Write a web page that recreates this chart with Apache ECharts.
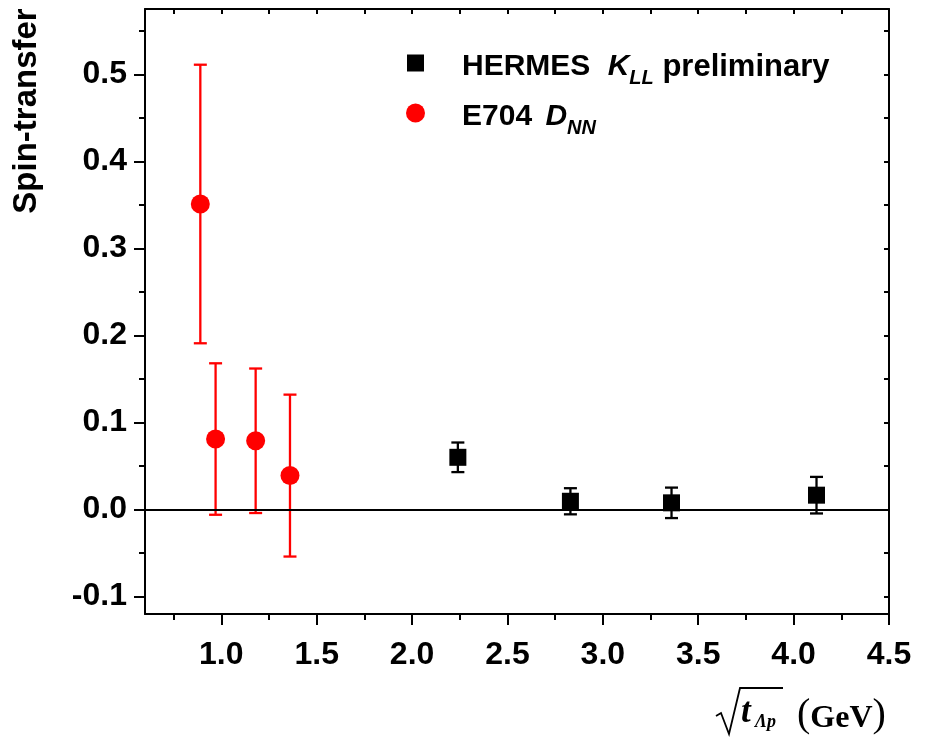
<!DOCTYPE html>
<html>
<head>
<meta charset="utf-8">
<script src="https://cdn.jsdelivr.net/npm/echarts@6/dist/echarts.min.js"></script>
<style>html,body{margin:0;padding:0;background:#fff;}#c{width:927px;height:739px;}</style>
</head>
<body>
<div id="c"></div>
<script>
// ---- data ----
const xMajor = [1.0, 1.5, 2.0, 2.5, 3.0, 3.5, 4.0, 4.5];
const xMinor = [0.75, 1.25, 1.75, 2.25, 2.75, 3.25, 3.75, 4.25];
const yMajor = [-0.1, 0.0, 0.1, 0.2, 0.3, 0.4, 0.5];
const yMinor = [-0.05, 0.05, 0.15, 0.25, 0.35, 0.45, 0.55];

const hermesX = [2.24, 2.83, 3.36, 4.12];
const hermesY = [0.060, 0.0095, 0.0077, 0.0165];
const hermesErr = [0.017, 0.015, 0.0175, 0.021];

const e704X = [0.89, 0.97, 1.18, 1.36];
const e704Y = [0.351, 0.081, 0.079, 0.039];
const e704Err = [0.160, 0.087, 0.083, 0.093];

// ---- build ----
const hermesData = hermesX.map((x, i) => [x, hermesY[i], hermesErr[i]]);
const e704Data = e704X.map((x, i) => [x, e704Y[i], e704Err[i]]);

function errRender(color, lw) {
  return function (params, api) {
    const x = api.value(0), y = api.value(1), e = api.value(2);
    const t = api.coord([x, y + e]);
    const b = api.coord([x, y - e]);
    const hw = 6.5;
    const st = { stroke: color, lineWidth: lw };
    return {
      type: 'group',
      children: [
        { type: 'line', shape: { x1: t[0], y1: t[1], x2: b[0], y2: b[1] }, style: st },
        { type: 'line', shape: { x1: t[0] - hw, y1: t[1], x2: t[0] + hw, y2: t[1] }, style: st },
        { type: 'line', shape: { x1: b[0] - hw, y1: b[1], x2: b[0] + hw, y2: b[1] }, style: st }
      ]
    };
  };
}

const SANS = '"Liberation Sans", Arial, sans-serif';
const SERIF = '"Liberation Serif", "Times New Roman", serif';
const labelStyle = { color: '#000', fontFamily: SANS, fontWeight: 'bold', fontSize: 32 };
const axLine = { show: true, onZero: false, lineStyle: { color: '#000', width: 2 } };
const noLine = { show: false, onZero: false };

const richLegend = {
  b: { fontFamily: SANS, fontWeight: 'bold', fontSize: 30, lineHeight: 32, verticalAlign: 'top', color: '#000' },
  p: { fontFamily: SANS, fontWeight: 'bold', fontSize: 31, lineHeight: 32, verticalAlign: 'top', color: '#000' },
  bi: { fontFamily: SANS, fontWeight: 'bold', fontStyle: 'italic', fontSize: 30, lineHeight: 32, verticalAlign: 'top', color: '#000', padding: [0, 0, 0, 9] },
  bi2: { fontFamily: SANS, fontWeight: 'bold', fontStyle: 'italic', fontSize: 30, lineHeight: 32, verticalAlign: 'top', color: '#000', padding: [0, 0, 0, 5] },
  sub: { fontFamily: SANS, fontWeight: 'bold', fontStyle: 'italic', fontSize: 20, lineHeight: 20, padding: [20, 0, 0, 0], color: '#000' }
};

const option = {
  animation: false,
  backgroundColor: '#fff',
  grid: { left: 145, right: 38, top: 9, bottom: 125 },
  legend: [
    {
      data: ['HERMES'], left: 407, top: 48, padding: 0,
      icon: 'rect', itemWidth: 17, itemHeight: 17,
      formatter: () => '{b|HERMES }{bi|K}{sub|LL}{p| preliminary}',
      textStyle: { padding: [10, 0, 0, 33], rich: richLegend },
      selectedMode: false
    },
    {
      data: ['E704'], left: 406, top: 98, padding: 0,
      icon: 'circle', itemWidth: 19, itemHeight: 19,
      formatter: () => '{b|E704 }{bi2|D}{sub|NN}',
      textStyle: { padding: [10, 0, 0, 32], rich: richLegend },
      selectedMode: false
    }
  ],
  xAxis: [
    {
      type: 'value', position: 'bottom', min: 0.6, max: 4.5,
      axisLine: axLine,
      axisTick: { show: true, inside: false, length: 11, customValues: xMajor, lineStyle: { color: '#000', width: 2 } },
      axisLabel: { show: true, customValues: xMajor, margin: 25, formatter: v => v.toFixed(1), ...labelStyle },
      splitLine: { show: false }
    },
    {
      type: 'value', position: 'bottom', min: 0.6, max: 4.5,
      axisLine: noLine,
      axisTick: { show: true, inside: false, length: 6, customValues: xMinor, lineStyle: { color: '#000', width: 2 } },
      axisLabel: { show: false },
      splitLine: { show: false }
    },
    {
      type: 'value', position: 'top', min: 0.6, max: 4.5,
      axisLine: axLine,
      axisTick: { show: true, inside: true, length: 5, customValues: xMajor.concat(xMinor), lineStyle: { color: '#000', width: 2 } },
      axisLabel: { show: false },
      splitLine: { show: false }
    }
  ],
  yAxis: [
    {
      type: 'value', position: 'left', min: -0.12, max: 0.575,
      axisLine: axLine,
      axisTick: { show: true, inside: false, length: 11, customValues: yMajor, lineStyle: { color: '#000', width: 2 } },
      axisLabel: { show: true, customValues: yMajor, margin: 18, formatter: v => v.toFixed(1), ...labelStyle },
      splitLine: { show: false }
    },
    {
      type: 'value', position: 'left', min: -0.12, max: 0.575,
      axisLine: noLine,
      axisTick: { show: true, inside: false, length: 6, customValues: yMinor, lineStyle: { color: '#000', width: 2 } },
      axisLabel: { show: false },
      splitLine: { show: false }
    },
    {
      type: 'value', position: 'right', min: -0.12, max: 0.575,
      axisLine: axLine,
      axisTick: { show: true, inside: true, length: 5, customValues: yMajor.concat(yMinor), lineStyle: { color: '#000', width: 2 } },
      axisLabel: { show: false },
      splitLine: { show: false }
    }
  ],
  series: [
    {
      type: 'custom', name: 'E704 err', xAxisIndex: 0, yAxisIndex: 0,
      renderItem: errRender('#ff0000', 2.3), data: e704Data, encode: { x: 0, y: 1 }, z: 2, silent: true
    },
    {
      type: 'custom', name: 'HERMES err', xAxisIndex: 0, yAxisIndex: 0,
      renderItem: errRender('#000000', 2.3), data: hermesData, encode: { x: 0, y: 1 }, z: 2, silent: true
    },
    {
      type: 'scatter', name: 'HERMES', xAxisIndex: 0, yAxisIndex: 0,
      symbol: 'rect', symbolSize: 17, itemStyle: { color: '#000', opacity: 1 },
      data: hermesData.map(d => [d[0], d[1]]), z: 3,
      markLine: {
        silent: true, symbol: 'none', label: { show: false },
        lineStyle: { color: '#000', width: 2, type: 'solid' },
        data: [{ yAxis: 0 }]
      }
    },
    {
      type: 'scatter', name: 'E704', xAxisIndex: 0, yAxisIndex: 0,
      symbol: 'circle', symbolSize: 19, itemStyle: { color: '#ff0000', opacity: 1 },
      data: e704Data.map(d => [d[0], d[1]]), z: 4
    }
  ],
  graphic: [
    {
      type: 'text', x: 27, y: 111, rotation: Math.PI / 2,
      style: { text: 'Spin-transfer', fontFamily: SANS, fontWeight: 'bold', fontSize: 33, fill: '#000', align: 'center', verticalAlign: 'middle' }
    },
    {
      type: 'polyline',
      shape: { points: [[716, 716], [721, 713], [729, 734], [740, 688], [783, 688]] },
      style: { stroke: '#000', lineWidth: 1.8, fill: null }
    },
    {
      type: 'text', x: 741, y: 730,
      style: { text: 't', fontFamily: SERIF, fontWeight: 'bold', fontStyle: 'italic', fontSize: 35, fill: '#000', verticalAlign: 'bottom' }
    },
    {
      type: 'text', x: 755, y: 731,
      style: { text: 'Λp', fontFamily: SERIF, fontWeight: 'bold', fontStyle: 'italic', fontSize: 18, fill: '#000', verticalAlign: 'bottom' }
    },
    {
      type: 'text', x: 797, y: 735,
      style: {
        text: '{pa|(}{g|GeV}{pa|)}', verticalAlign: 'bottom',
        rich: {
          pa: { fontFamily: SERIF, fontSize: 40, lineHeight: 44, fill: '#000', verticalAlign: 'bottom' },
          g: { fontFamily: SERIF, fontWeight: 'bold', fontSize: 32, lineHeight: 40, fill: '#000', verticalAlign: 'bottom' }
        }
      }
    }
  ]
};

const chart = echarts.init(document.getElementById('c'), null, { renderer: 'canvas' });
chart.setOption(option);
</script>
</body>
</html>
